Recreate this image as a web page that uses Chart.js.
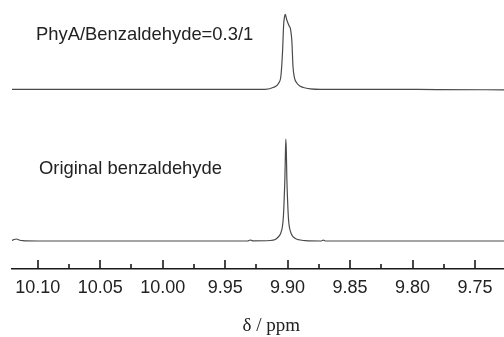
<!DOCTYPE html>
<html>
<head>
<meta charset="utf-8">
<script src="https://cdn.jsdelivr.net/npm/chart.js@4/dist/chart.umd.min.js"></script>
<style>
  html, body { margin: 0; padding: 0; background: #ffffff; }
  #wrap { width: 504px; height: 337px; position: relative; }
</style>
</head>
<body>
<div id="wrap"><canvas id="c" width="504" height="337"></canvas></div>
<script>
// ---- data ----
const seriesNames = ["PhyA/Benzaldehyde=0.3/1", "Original benzaldehyde"];
const axisTitle = "δ / ppm";

// PhyA/Benzaldehyde = 0.3/1 (intensity above its own baseline)
const ppmPhyA = [10.1206, 10.05, 10.00, 9.95, 9.9179, 9.9112, 9.9072, 9.9053, 9.9040, 9.9032, 9.9024,
  9.9018, 9.9010, 9.9000, 9.8986, 9.8978, 9.8970, 9.8965, 9.8957, 9.8946, 9.8925, 9.8898, 9.8874,
  9.8818, 9.8738, 9.82, 9.78, 9.7268];
const intensityPhyA = [0, 0, 0, 0, 0, 2, 6, 14, 39, 64, 73,
  75, 71, 67, 63, 61, 54, 46, 23, 12, 6, 3, 1.8,
  0.5, 0, 0, -0.3, -0.5];

// Original benzaldehyde
const ppmOriginal = [10.1206, 10.1190, 10.1170, 10.1150, 10.1120, 10.10, 10.00, 9.932, 9.930, 9.928,
  9.9139, 9.9099, 9.9075, 9.9058, 9.9042, 9.9034, 9.9028, 9.9022, 9.9018, 9.9014, 9.9010, 9.9006,
  9.9000, 9.8993, 9.8986, 9.8970, 9.8954, 9.8930, 9.8898, 9.8858, 9.8730, 9.8714, 9.8698, 9.80, 9.7268];
const intensityOriginal = [0.5, 1.5, 2, 1, 0.3, 0, 0, 0, 1, 0.2,
  0.5, 1.5, 4, 7, 14, 24, 40, 62, 85, 102, 88, 62,
  40, 22, 14, 7, 4, 2, 1, 0.3, 0, 0.8, 0, 0, 0];

// axis ticks (ppm)
const majorTicks = [10.10, 10.05, 10.00, 9.95, 9.90, 9.85, 9.80, 9.75];
const minorTicks = [10.075, 10.025, 9.975, 9.925, 9.875, 9.825, 9.775];

// axis range and stacking of the two spectra
const ppmMax = 10.1206, ppmMin = 9.7268;
const stackOffset = 151.7;

// annotation anchors (ppm, intensity)
const labelPpm = [10.1014, 10.0990];
const labelIntensity = [206, 71.7];
const titlePpm = 9.9131;

// ---- build ----
const toPoints = (xs, ys, off) => xs.map((x, i) => ({ x: x, y: ys[i] + off }));

const tickMarks = {
  id: 'tickMarks',
  afterDraw(chart) {
    const { ctx, scales } = chart;
    const sx = scales.x, sy = scales.y;
    const base = sx.top;
    ctx.save();
    ctx.strokeStyle = '#1a1a1a';
    ctx.lineWidth = 1.6;
    ctx.beginPath();
    majorTicks.forEach(v => {
      const p = Math.round(sx.getPixelForValue(v));
      ctx.moveTo(p, base); ctx.lineTo(p, base - 9);
    });
    minorTicks.forEach(v => {
      const p = Math.round(sx.getPixelForValue(v));
      ctx.moveTo(p, base); ctx.lineTo(p, base - 5);
    });
    ctx.stroke();
    // annotations
    ctx.fillStyle = '#222222';
    ctx.font = '18.4px "Liberation Sans", Arial, sans-serif';
    ctx.textAlign = 'left';
    ctx.textBaseline = 'middle';
    seriesNames.forEach((name, i) => {
      ctx.fillText(name, sx.getPixelForValue(labelPpm[i]), sy.getPixelForValue(labelIntensity[i]));
    });
    // axis title
    ctx.font = '19px "Liberation Serif", "Times New Roman", serif';
    ctx.textAlign = 'center';
    ctx.fillText(axisTitle, sx.getPixelForValue(titlePpm), sx.bottom + 19.4);
    ctx.restore();
  }
};

new Chart(document.getElementById('c'), {
  type: 'line',
  data: {
    datasets: [
      {
        label: seriesNames[0],
        data: toPoints(ppmPhyA, intensityPhyA, stackOffset),
        borderColor: '#4a4a4a', borderWidth: 1.2, pointRadius: 0,
        cubicInterpolationMode: 'monotone', fill: false
      },
      {
        label: seriesNames[1],
        data: toPoints(ppmOriginal, intensityOriginal, 0),
        borderColor: '#4a4a4a', borderWidth: 1.2, pointRadius: 0,
        cubicInterpolationMode: 'monotone', fill: false
      }
    ]
  },
  options: {
    responsive: false,
    animation: false,
    layout: { padding: { left: 12, right: 0, top: 0, bottom: 30.4 } },
    plugins: { legend: { display: false }, tooltip: { enabled: false } },
    scales: {
      x: {
        type: 'linear',
        reverse: true,
        min: ppmMin, max: ppmMax,
        afterBuildTicks: (s) => { s.ticks = majorTicks.map(v => ({ value: v })); },
        grid: { display: true, drawOnChartArea: false, drawTicks: false },
        border: { display: true, color: '#1a1a1a', width: 1.6 },
        ticks: {
          padding: 8,
          color: '#222222',
          font: { family: '"Liberation Sans", Arial, sans-serif', size: 18 },
          maxRotation: 0, autoSkip: false,
          callback: (v) => Number(v).toFixed(2)
        },
        title: { display: false }
      },
      y: {
        display: false,
        min: -28, max: 241
      }
    }
  },
  plugins: [tickMarks]
});
</script>
</body>
</html>
